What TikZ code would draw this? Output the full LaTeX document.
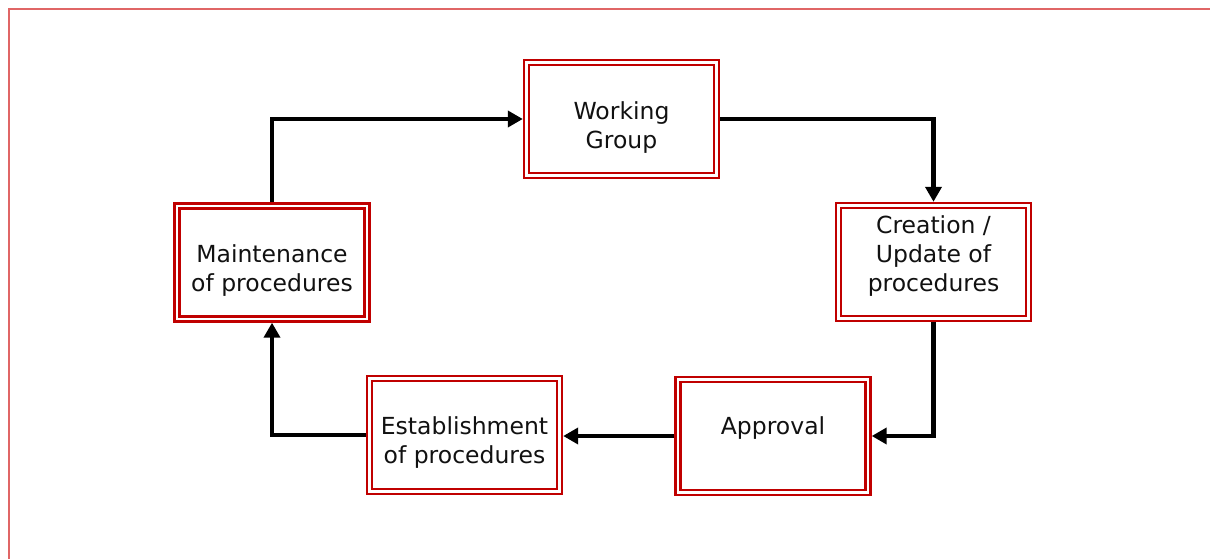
\documentclass[tikz,border=0pt]{standalone}
\usepackage{fontspec}
\setmainfont{DejaVu Sans}
\usetikzlibrary{arrows.meta}
\definecolor{boxred}{HTML}{C00000}
\definecolor{framered}{HTML}{E06666}
\definecolor{textdark}{HTML}{111111}
\begin{document}
\begin{tikzpicture}[x=1pt,y=-1pt,
  procbox/.style={draw=boxred, double=white, double distance=2.6pt, line width=2.4pt,
    minimum width=190pt, minimum height=113pt, inner sep=0pt, outer sep=3.7pt},
  proctext/.style={align=center, font=\fontsize{23.5}{29}\selectfont, text=textdark, inner sep=0pt},
  flow/.style={line width=4.6pt, -{Triangle[length=15pt,width=16pt]}}]
\useasboundingbox (0,0) rectangle (1210,559);
% outer frame
\draw[framered, line width=2pt] (8.5,559) -- (8.5,9.5) -- (1210,9.5);
% boxes
\node[procbox] (wg) at (621.5,119) {};
\node[procbox] (cu) at (933.5,262) {};
\node[procbox] (ap) at (773,436) {};
\node[procbox] (es) at (464.5,435) {};
\node[procbox] (mp) at (272,262.5) {};
% texts
\node[proctext] (wgt) at (621.5,128) {Working\\Group};
\node[proctext] (cut) at (933.5,256) {Creation /\\Update of\\procedures};
\node[proctext] (apt) at (773,428) {Approval};
\node[proctext] (est) at (464.5,443) {Establishment\\of procedures};
\node[proctext] (mpt) at (272,271) {Maintenance\\of procedures};
% connectors
\draw[flow] (mp.north) |- (wg.west);
\draw[flow] (wg.east) -| (cu.north);
\draw[flow] (cu.south) |- (ap.east);
\draw[flow] (ap.west) -- (ap.west -| es.east);
\draw[flow] (es.west) -| (mp.south);
\end{tikzpicture}
\end{document}
